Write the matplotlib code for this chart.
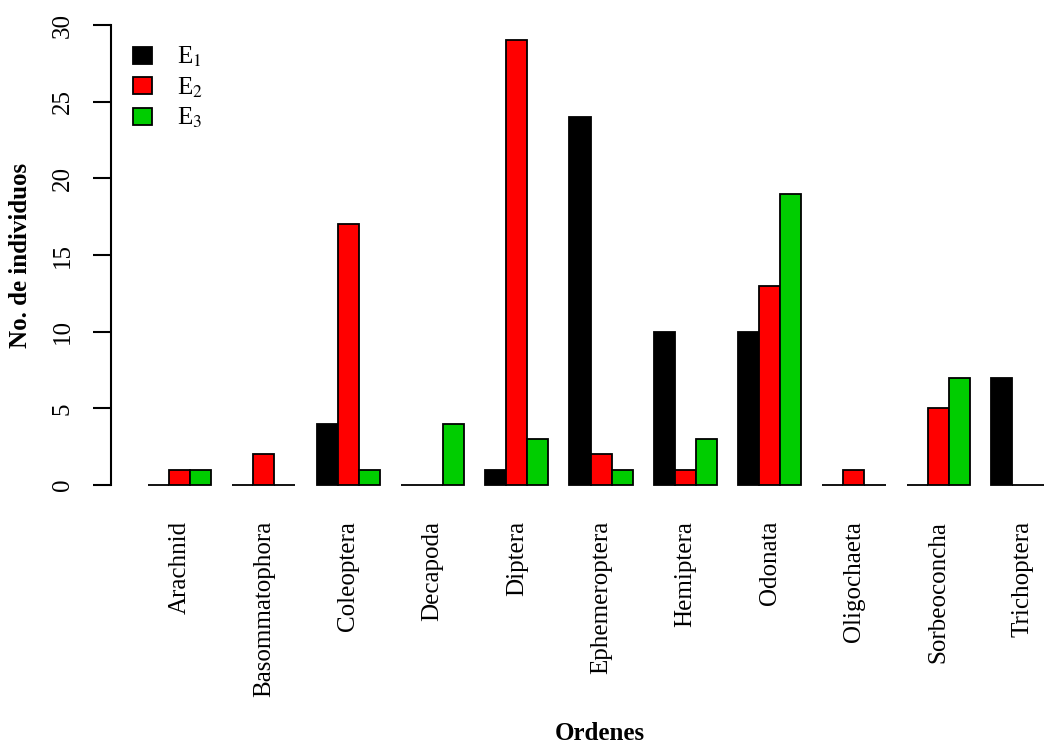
import matplotlib
matplotlib.use("Agg")
import matplotlib.pyplot as plt
from matplotlib.patches import Patch

plt.rcParams["font.family"] = ["Liberation Serif", "DejaVu Serif"]
plt.rcParams["mathtext.fontset"] = "stix"

ordenes = ["Arachnid", "Basommatophora", "Coleoptera", "Decapoda", "Diptera",
           "Ephemeroptera", "Hemiptera", "Odonata", "Oligochaeta",
           "Sorbeoconcha", "Trichoptera"]
e1 = [0, 0, 4, 0, 1, 24, 10, 10, 0, 0, 7]
e2 = [1, 2, 17, 0, 29, 2, 1, 13, 1, 5, 0]
e3 = [1, 0, 1, 4, 3, 1, 3, 19, 0, 7, 0]
series = [e1, e2, e3]
series_names = [r"E$_1$", r"E$_2$", r"E$_3$"]
colors = ["#000000", "#FF0000", "#00CD00"]
yticks = [0, 5, 10, 15, 20, 25, 30]

W, H = 1044, 745
fig = plt.figure(figsize=(W / 100, H / 100), dpi=100)
ax = fig.add_axes([111 / W, 260 / H, 933 / W, 460 / H])

# R-style barplot(beside=TRUE): groups of 3 bars with one bar of space before each group
for i, (vals, col) in enumerate(zip(series, colors)):
    xs = [4 * g + 1 + i for g in range(len(ordenes))]
    ax.bar(xs, vals, width=1, align="edge", color=col, edgecolor="black",
           linewidth=1.3, clip_on=False)

ax.set_xlim(-0.755, 43.52)
ax.set_ylim(0, 30)

for s in ["top", "right", "bottom"]:
    ax.spines[s].set_visible(False)
ax.spines["left"].set_bounds(0, 30)
ax.spines["left"].set_linewidth(1.5)

ax.set_yticks(yticks)
ax.set_yticklabels([str(t) for t in yticks], fontsize=18)
plt.setp(ax.get_yticklabels(), rotation=90, va="center")
ax.tick_params(axis="y", length=13, width=1.5, pad=14)

ax.set_xticks([4 * g + 2.5 for g in range(len(ordenes))])
ax.set_xticklabels(ordenes, rotation=90, fontsize=18, va="top")
ax.tick_params(axis="x", length=0, pad=26)

fig.text(21 / W, 1 - 255 / H, "No. de individuos", rotation=90, ha="center",
         va="center", fontsize=18, fontweight="bold")
fig.text(600 / W, 1 - 733 / H, "Ordenes", ha="center", va="center",
         fontsize=18, fontweight="bold")

handles = [Patch(facecolor=c, edgecolor="black", linewidth=1.3) for c in colors]
ax.legend(handles, series_names, loc="upper left",
          bbox_to_anchor=(133 / W, 1 - 45 / H), bbox_transform=fig.transFigure,
          frameon=False, fontsize=18, handlelength=0.75, handleheight=0.65,
          handletextpad=1.0, labelspacing=0.25, borderaxespad=0, borderpad=0)

fig.savefig("out.png", dpi=100)
